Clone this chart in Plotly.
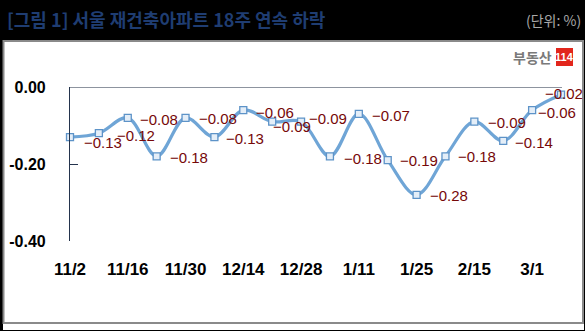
import plotly.graph_objects as go

# ---- data ----
dates = ["11/2", "11/9", "11/16", "11/23", "11/30", "12/7", "12/14", "12/21", "12/28",
         "1/4", "1/11", "1/18", "1/25", "2/1", "2/15", "2/22", "3/1", "3/8"]
values = [-0.13, -0.12, -0.08, -0.18, -0.08, -0.13, -0.06, -0.09, -0.09,
          -0.18, -0.07, -0.19, -0.28, -0.18, -0.09, -0.14, -0.06, -0.02]
shown_ticks = ["11/2", "11/16", "11/30", "12/14", "12/28", "1/11", "1/25", "2/15", "3/1"]
y_tickvals = [0.0, -0.2, -0.4]
y_ticktext = ["0.00", "-0.20", "-0.40"]
title_text = "[그림 1] 서울 재건축아파트 18주 연속 하락"
unit_text = "(단위: %)"

# label offsets (style only, in pixels)
label_dx = [12, 16, 10, 11, 11, 10, 11, -1, 6, 12, 11, 10, 11, 11, 12, 10, 4, -18]
label_dy = [-5, -2, -2, -1, -1, -1, -2, -5, 3, -2, -2, 0, -1, 0, -1, -2, -2, 1]

W, H = 585, 331
L, R, T, B = 70, 561, 87, 241


def px(x):
    return (x - L) / (R - L)


def py(y):
    return (B - y) / (B - T)


fig = go.Figure()
fig.add_trace(go.Scatter(
    x=dates, y=values, mode="lines+markers",
    line=dict(color="#6fa5d6", width=3.2, shape="spline", smoothing=1.0),
    marker=dict(symbol="square", size=7, color="#e4eef8",
                line=dict(color="#5d93c8", width=1.3)),
    hoverinfo="skip", showlegend=False, cliponaxis=False,
))

annotations = []
for i, (d, v) in enumerate(zip(dates, values)):
    annotations.append(dict(
        x=d, y=v, xref="x", yref="y", text=f"{v:.2f}".replace("-", "\u2212"),
        showarrow=False, xanchor="left", yanchor="middle",
        xshift=label_dx[i], yshift=label_dy[i],
        font=dict(family="Liberation Sans, Arial", size=15, color="#760808"),
    ))

# title & unit
annotations.append(dict(
    x=px(5), y=py(19), xref="paper", yref="paper", text=f"<b>{title_text}</b>",
    showarrow=False, xanchor="left", yanchor="middle",
    font=dict(family="Noto Sans CJK KR", size=18, color="#1f3d72"),
))
annotations.append(dict(
    x=px(583), y=py(20), xref="paper", yref="paper", text=unit_text,
    showarrow=False, xanchor="right", yanchor="middle",
    font=dict(family="Noto Sans CJK KR", size=14, color="#a8a8a8"),
))
# logo
annotations.append(dict(
    x=px(554), y=py(57), xref="paper", yref="paper", text="<b>부동산</b>",
    showarrow=False, xanchor="right", yanchor="middle",
    font=dict(family="Noto Sans CJK KR", size=14, color="#7a7a7a"),
))
annotations.append(dict(
    x=px(564.5), y=py(57), xref="paper", yref="paper", text="<b>114</b>",
    showarrow=False, xanchor="center", yanchor="middle",
    font=dict(family="Liberation Sans Narrow, Liberation Sans", size=11, color="white"),
))

shapes = [
    # white panel
    dict(type="rect", xref="paper", yref="paper", x0=px(3), x1=px(584), y0=py(40), y1=py(330),
         fillcolor="white", line=dict(width=0), layer="below"),
    # grey frame
    dict(type="rect", xref="paper", yref="paper", x0=px(3.5), x1=px(583), y0=py(41), y1=py(323),
         fillcolor="rgba(0,0,0,0)", line=dict(color="#8a8a8a", width=2), layer="below"),
    # red logo box
    dict(type="rect", xref="paper", yref="paper", x0=px(556), x1=px(573), y0=py(48), y1=py(66),
         fillcolor="#e2261c", line=dict(width=0), layer="above"),
    # zero line on top of plot
    dict(type="line", xref="x domain", yref="y", x0=0, x1=1.002, y0=0, y1=0,
         line=dict(color="#1c2a40", width=1.2), layer="below"),
]

fig.update_layout(
    width=W, height=H,
    margin=dict(l=L, r=W - R, t=T, b=H - B),
    paper_bgcolor="black", plot_bgcolor="rgba(0,0,0,0)",
    font=dict(family="Liberation Sans, Arial"),
    annotations=annotations, shapes=shapes,
    xaxis=dict(
        type="category", range=[0, len(dates) - 1], showgrid=False, zeroline=False,
        showline=False, ticks="", tickmode="array", tickvals=shown_ticks, ticktext=shown_ticks,
        tickfont=dict(size=17, color="black", family="Liberation Sans, Arial", weight="bold"),
        ticklabelstandoff=16, automargin=False,
    ),
    yaxis=dict(
        range=[-0.4, 0.0], showgrid=False, zeroline=False, showline=True,
        linecolor="#24344d", linewidth=1.2, ticks="inside", ticklen=8, tickcolor="#24344d",
        tickvals=y_tickvals, ticktext=y_ticktext,
        tickfont=dict(size=16, color="black", family="Liberation Sans, Arial", weight="bold"),
        ticklabelstandoff=20, automargin=False,
    ),
)

fig.write_html("out.html")
